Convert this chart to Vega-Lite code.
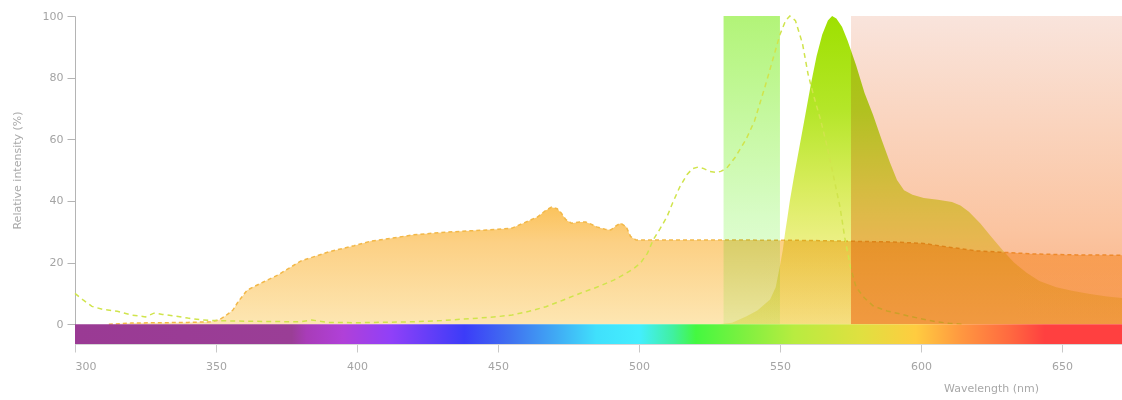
{
  "$schema": "https://vega.github.io/schema/vega-lite/v6.json",
  "width": 1047,
  "height": 328,
  "autosize": {"type": "none"},
  "padding": {"left": 75, "top": 16, "right": 0, "bottom": 56},
  "background": "white",
  "config": {
    "view": {"stroke": null},
    "font": "DejaVu Sans",
    "axis": {"grid": false, "labelFont": "DejaVu Sans", "titleFont": "DejaVu Sans", "titleFontWeight": "normal"}
  },
  "datasets": {
    "source": [
      {"nm": 312, "v": 0}, {"nm": 320, "v": 0.4}, {"nm": 330, "v": 0.5}, {"nm": 340, "v": 0.6}, {"nm": 348, "v": 0.8},
      {"nm": 351, "v": 1.4}, {"nm": 353, "v": 2.5}, {"nm": 356, "v": 4.6}, {"nm": 358, "v": 7.5}, {"nm": 361, "v": 11},
      {"nm": 363, "v": 12}, {"nm": 367, "v": 13.8}, {"nm": 372, "v": 16}, {"nm": 380, "v": 20.5}, {"nm": 390, "v": 23.5},
      {"nm": 399, "v": 25.5}, {"nm": 405, "v": 27}, {"nm": 410, "v": 27.6}, {"nm": 420, "v": 29}, {"nm": 430, "v": 29.8},
      {"nm": 440, "v": 30.3}, {"nm": 450, "v": 30.8}, {"nm": 455, "v": 31.2}, {"nm": 459, "v": 32.8}, {"nm": 464, "v": 34.8},
      {"nm": 467, "v": 37}, {"nm": 469, "v": 38}, {"nm": 471, "v": 37.5}, {"nm": 472.5, "v": 36}, {"nm": 474, "v": 34},
      {"nm": 476, "v": 32.8}, {"nm": 479, "v": 33.2}, {"nm": 481, "v": 33.2}, {"nm": 483, "v": 32.5}, {"nm": 485, "v": 31.6},
      {"nm": 488, "v": 30.8}, {"nm": 490, "v": 30.6}, {"nm": 492, "v": 32}, {"nm": 493.5, "v": 32.8}, {"nm": 495.5, "v": 31.6},
      {"nm": 497, "v": 28.5}, {"nm": 499, "v": 27.3}, {"nm": 520, "v": 27.3}, {"nm": 540, "v": 27.3}, {"nm": 560, "v": 27.2},
      {"nm": 576, "v": 26.9}, {"nm": 590, "v": 26.7}, {"nm": 601, "v": 26.2}, {"nm": 610, "v": 25}, {"nm": 620, "v": 23.8},
      {"nm": 628, "v": 23.4}, {"nm": 640, "v": 22.8}, {"nm": 655, "v": 22.5}, {"nm": 671.3, "v": 22.4}
    ],
    "excitation": [
      {"nm": 300, "v": 10}, {"nm": 303, "v": 7.8}, {"nm": 306, "v": 5.8}, {"nm": 310, "v": 4.8}, {"nm": 315, "v": 4.2},
      {"nm": 320, "v": 3}, {"nm": 325, "v": 2.4}, {"nm": 328, "v": 3.6}, {"nm": 331, "v": 3.2}, {"nm": 336, "v": 2.6},
      {"nm": 340, "v": 2}, {"nm": 345, "v": 1.4}, {"nm": 350, "v": 1.2}, {"nm": 360, "v": 1}, {"nm": 370, "v": 0.9},
      {"nm": 380, "v": 0.8}, {"nm": 384, "v": 1.4}, {"nm": 386, "v": 1.1}, {"nm": 390, "v": 0.6}, {"nm": 400, "v": 0.5},
      {"nm": 420, "v": 0.8}, {"nm": 430, "v": 1.2}, {"nm": 443, "v": 2}, {"nm": 450, "v": 2.5}, {"nm": 455, "v": 3},
      {"nm": 461, "v": 4.2}, {"nm": 467, "v": 5.7}, {"nm": 473, "v": 7.8}, {"nm": 479, "v": 10}, {"nm": 485, "v": 12},
      {"nm": 491, "v": 14.3}, {"nm": 495, "v": 16.3}, {"nm": 498, "v": 18}, {"nm": 500.5, "v": 19.8}, {"nm": 503, "v": 23},
      {"nm": 505, "v": 27.3}, {"nm": 507.5, "v": 31}, {"nm": 510, "v": 35}, {"nm": 512, "v": 39.5}, {"nm": 514.5, "v": 44.6},
      {"nm": 517, "v": 48.5}, {"nm": 519, "v": 50.5}, {"nm": 521, "v": 51}, {"nm": 523, "v": 50.5}, {"nm": 525, "v": 49.6},
      {"nm": 527, "v": 49.3}, {"nm": 529, "v": 49.6}, {"nm": 531, "v": 50.5}, {"nm": 534, "v": 54}, {"nm": 536, "v": 57},
      {"nm": 538, "v": 60}, {"nm": 541, "v": 66}, {"nm": 543, "v": 72}, {"nm": 545, "v": 78}, {"nm": 547.5, "v": 86},
      {"nm": 550, "v": 94}, {"nm": 552, "v": 98.5}, {"nm": 553.5, "v": 100}, {"nm": 555.5, "v": 98.5}, {"nm": 558, "v": 91},
      {"nm": 560, "v": 81}, {"nm": 562, "v": 74}, {"nm": 564.5, "v": 66}, {"nm": 566.5, "v": 58.5}, {"nm": 569, "v": 48},
      {"nm": 571.3, "v": 38}, {"nm": 573, "v": 28}, {"nm": 575, "v": 18.6}, {"nm": 577, "v": 12}, {"nm": 580, "v": 8.5},
      {"nm": 583, "v": 6}, {"nm": 588, "v": 4.3}, {"nm": 592, "v": 3.5}, {"nm": 596, "v": 2.6}, {"nm": 600, "v": 1.8},
      {"nm": 605, "v": 0.9}, {"nm": 610, "v": 0.3}, {"nm": 615, "v": 0}
    ],
    "emission": [
      {"nm": 528, "v": 0}, {"nm": 533, "v": 0.5}, {"nm": 538, "v": 2.5}, {"nm": 542, "v": 4.5}, {"nm": 546.5, "v": 8},
      {"nm": 548.5, "v": 12}, {"nm": 550, "v": 19}, {"nm": 551, "v": 24}, {"nm": 551.8, "v": 29.5}, {"nm": 552.7, "v": 35},
      {"nm": 553.5, "v": 40}, {"nm": 555, "v": 48}, {"nm": 557, "v": 58}, {"nm": 559, "v": 68}, {"nm": 561, "v": 78},
      {"nm": 563, "v": 87}, {"nm": 565, "v": 94}, {"nm": 567, "v": 98.5}, {"nm": 568.5, "v": 100}, {"nm": 570, "v": 99.2},
      {"nm": 572, "v": 96.5}, {"nm": 574, "v": 92}, {"nm": 577, "v": 84}, {"nm": 580, "v": 75}, {"nm": 583, "v": 68},
      {"nm": 586, "v": 60}, {"nm": 589, "v": 52.5}, {"nm": 591.5, "v": 46.8}, {"nm": 594, "v": 43.5}, {"nm": 597, "v": 42},
      {"nm": 601, "v": 41}, {"nm": 606, "v": 40.4}, {"nm": 611, "v": 39.7}, {"nm": 614, "v": 38.5}, {"nm": 617, "v": 36.5},
      {"nm": 621, "v": 32.8}, {"nm": 625, "v": 28.3}, {"nm": 629, "v": 24}, {"nm": 633, "v": 20}, {"nm": 637.6, "v": 16.6},
      {"nm": 642, "v": 14}, {"nm": 648, "v": 12}, {"nm": 654, "v": 10.8}, {"nm": 660, "v": 9.8}, {"nm": 666, "v": 9},
      {"nm": 671.3, "v": 8.5}
    ],
    "exfilter": [{"start": 530, "end": 550}],
    "emfilter": [{"start": 575.2, "end": 671.3}],
    "spectrum": [{"start": 300, "end": 671.3}]
  },
  "layer": [
    {
      "data": {"name": "source"},
      "mark": {"type": "area", "color": {"gradient": "linear", "x1": 0, "y1": 0, "x2": 0, "y2": 1,
        "stops": [{"offset": 0, "color": "#fbc35c"}, {"offset": 0.3, "color": "#fcd084"}, {"offset": 1, "color": "#fde6b2"}]}},
      "encoding": {
        "x": {"field": "nm", "type": "quantitative", "scale": {"domain": [300, 671.3], "nice": false, "zero": false},
          "axis": {"title": "Wavelength (nm)", "values": [300, 350, 400, 450, 500, 550, 600, 650], "domain": true, "domainColor": "#d6d6d6",
            "tickSize": 8, "tickColor": "#c8c8c8", "labelColor": "#a4a4a4", "labelFontSize": 11, "labelPadding": 8,
            "titleColor": "#a8a8a8", "titleFontSize": 11, "titleX": 916, "titleY": 44, "titleAlign": "center", "titleBaseline": "middle"}},
        "y": {"field": "v", "type": "quantitative", "scale": {"domain": [-6.4, 100], "nice": false, "zero": false},
          "axis": {"title": "Relative intensity (%)", "values": [0, 20, 40, 60, 80, 100], "domain": true, "domainColor": "#b4b4b4",
            "tickSize": 8, "tickColor": "#b4b4b4", "labelColor": "#a4a4a4", "labelFontSize": 11, "labelPadding": 4,
            "titleColor": "#a8a8a8", "titleFontSize": 11, "titleX": -58, "titleY": 154, "titleAngle": -90, "titleAlign": "center", "titleBaseline": "middle"}}
      }
    },
    {
      "data": {"name": "source"},
      "mark": {"type": "line", "color": "#f2b848", "strokeWidth": 1.5, "strokeDash": [4, 3]},
      "encoding": {
        "x": {"field": "nm", "type": "quantitative", "title": "Wavelength (nm)"},
        "y": {"field": "v", "type": "quantitative", "title": "Relative intensity (%)"}
      }
    },
    {
      "data": {"name": "exfilter"},
      "mark": {"type": "rect", "blend": "multiply", "color": {"gradient": "linear", "x1": 0, "y1": 0, "x2": 0, "y2": 1,
        "stops": [{"offset": 0, "color": "#b2f478"}, {"offset": 0.65, "color": "#d8fcc6"}, {"offset": 1, "color": "#ecffe4"}]}},
      "encoding": {
        "x": {"field": "start", "type": "quantitative", "title": "Wavelength (nm)"},
        "x2": {"field": "end"},
        "y": {"datum": 100, "type": "quantitative", "title": "Relative intensity (%)"},
        "y2": {"datum": 0}
      }
    },
    {
      "data": {"name": "emission"},
      "mark": {"type": "area", "blend": "multiply", "color": {"gradient": "linear", "x1": 0, "y1": 0, "x2": 0, "y2": 1,
        "stops": [{"offset": 0, "color": "#9ee000"}, {"offset": 0.3, "color": "#b4e628"}, {"offset": 0.55, "color": "#d8ec5c"}, {"offset": 0.75, "color": "#eef088"}, {"offset": 1, "color": "#f8f6b8"}]}},
      "encoding": {
        "x": {"field": "nm", "type": "quantitative", "title": "Wavelength (nm)"},
        "y": {"field": "v", "type": "quantitative", "title": "Relative intensity (%)"}
      }
    },
    {
      "data": {"name": "excitation"},
      "mark": {"type": "line", "color": "#d0e44c", "strokeWidth": 1.5, "strokeDash": [5, 4]},
      "encoding": {
        "x": {"field": "nm", "type": "quantitative", "title": "Wavelength (nm)"},
        "y": {"field": "v", "type": "quantitative", "title": "Relative intensity (%)"}
      }
    },
    {
      "data": {"name": "emfilter"},
      "mark": {"type": "rect", "blend": "multiply", "color": {"gradient": "linear", "x1": 0, "y1": 0, "x2": 0, "y2": 1,
        "stops": [{"offset": 0, "color": "#f9e4dc"}, {"offset": 0.7, "color": "#fbc4a0"}, {"offset": 1, "color": "#fab080"}]}},
      "encoding": {
        "x": {"field": "start", "type": "quantitative", "title": "Wavelength (nm)"},
        "x2": {"field": "end"},
        "y": {"datum": 100, "type": "quantitative", "title": "Relative intensity (%)"},
        "y2": {"datum": 0}
      }
    },
    {
      "data": {"name": "spectrum"},
      "mark": {"type": "rect", "color": {"gradient": "linear", "x1": 0, "y1": 0, "x2": 1, "y2": 0,
        "stops": [
          {"offset": 0, "color": "#9a3a94"}, {"offset": 0.207, "color": "#9a3e96"}, {"offset": 0.221, "color": "#a83cb8"},
          {"offset": 0.256, "color": "#b040d8"}, {"offset": 0.302, "color": "#9040f8"}, {"offset": 0.372, "color": "#3c3cf8"},
          {"offset": 0.415, "color": "#4070f0"}, {"offset": 0.458, "color": "#40a8f4"}, {"offset": 0.498, "color": "#40e0fc"},
          {"offset": 0.539, "color": "#44eefe"}, {"offset": 0.571, "color": "#40f0a0"}, {"offset": 0.593, "color": "#44f840"},
          {"offset": 0.641, "color": "#80f040"}, {"offset": 0.687, "color": "#b8ec40"}, {"offset": 0.751, "color": "#e0e040"},
          {"offset": 0.803, "color": "#ffcc40"}, {"offset": 0.846, "color": "#ff9840"}, {"offset": 0.894, "color": "#ff6840"},
          {"offset": 0.926, "color": "#ff4040"}, {"offset": 1, "color": "#ff4040"}]}},
      "encoding": {
        "x": {"field": "start", "type": "quantitative", "title": "Wavelength (nm)"},
        "x2": {"field": "end"},
        "y": {"datum": 0, "type": "quantitative", "title": "Relative intensity (%)"},
        "y2": {"datum": -6.4}
      }
    }
  ]
}
